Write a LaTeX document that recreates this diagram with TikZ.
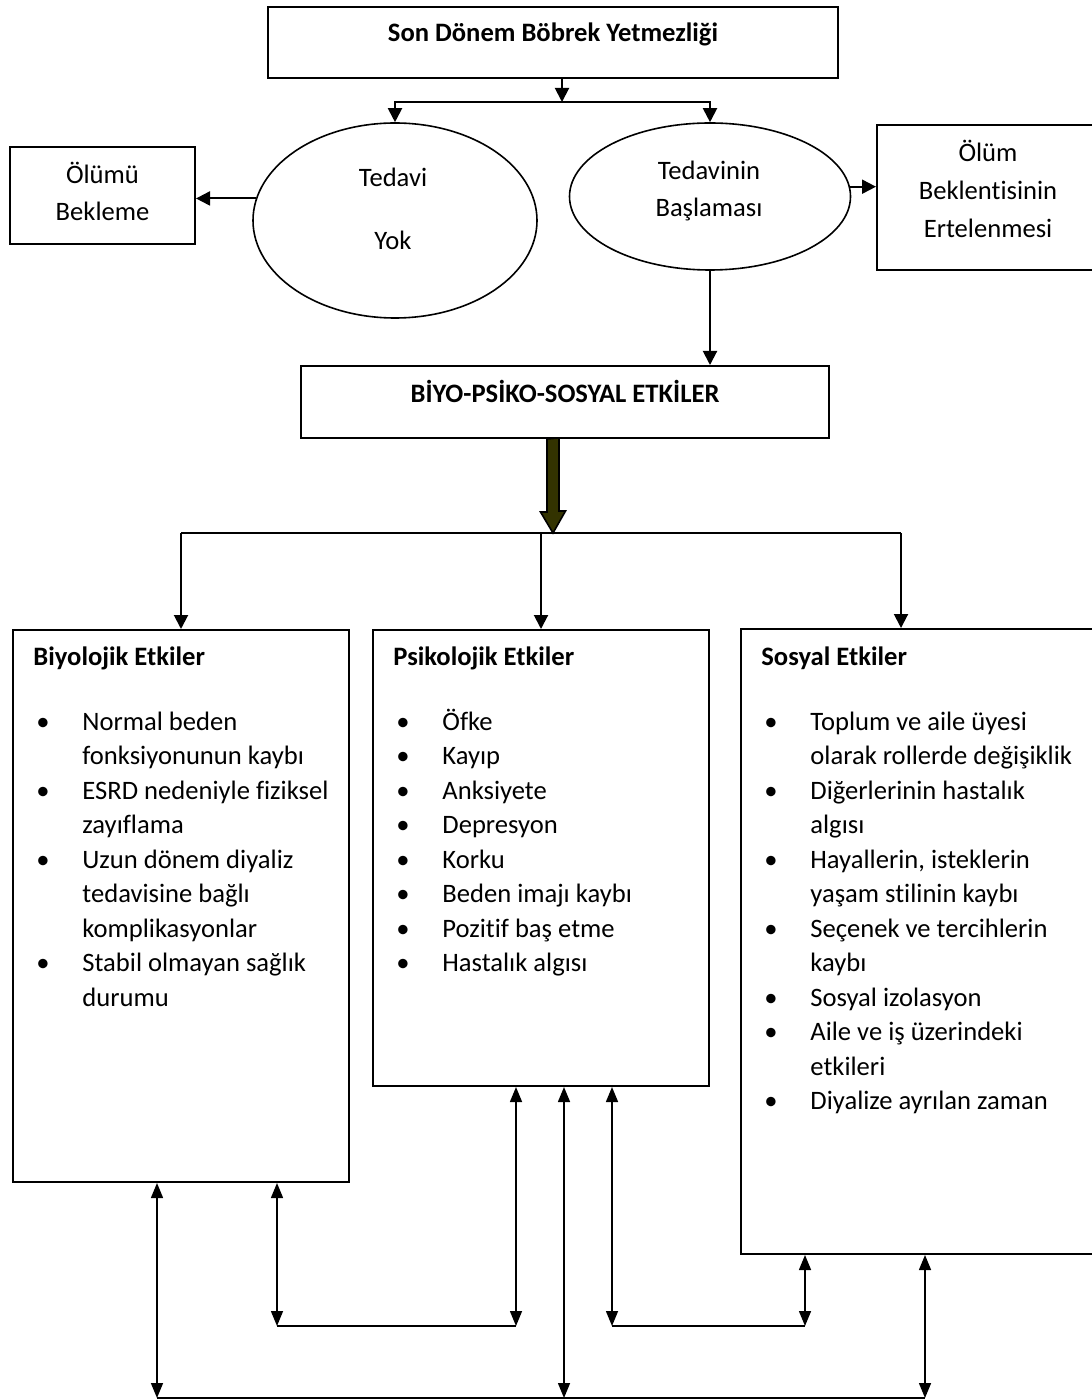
\documentclass[tikz,border=0pt]{standalone}
\usepackage{fontspec}
\setmainfont[Ligatures=NoCommon]{Carlito}
\usetikzlibrary{shapes.geometric,arrows.meta}
\definecolor{ArrowOlive}{HTML}{333300}
\newcommand{\blt}{\textbullet}
\tikzset{
  box/.style={draw, line width=1pt, rectangle, inner sep=0pt},
  oval/.style={draw, line width=0.8pt, ellipse, inner sep=0pt},
  txt/.style={anchor=base, inner sep=0pt, font=\fontsize{13.3}{17.25}\selectfont},
  headtxt/.style={anchor=base, inner sep=0pt, font=\bfseries\fontsize{13.3}{17.25}\selectfont},
  listtxt/.style={txt, anchor=base west},
  link/.style={line width=1pt},
  arr/.style={line width=1pt, -{Triangle[length=7pt,width=7pt]}},
  dbl/.style={line width=0.75pt, {Triangle[length=7.5pt,width=6pt]}-{Triangle[length=7.5pt,width=6pt]}},
}
\begin{document}
\begin{tikzpicture}[x=0.5pt, y=-0.5pt]%
\useasboundingbox (0,0) rectangle (1091,1400);%
% top part
\node[box, minimum width=285pt, minimum height=35.5pt] (son) at (553,42.5) {};%
\node[headtxt] (sontxt) at (553,42) {Son Dönem Böbrek Yetmezliği};%
\node[oval, minimum width=142pt, minimum height=97.5pt] (tedavi) at (395,220.5) {};%
\node[txt] (tedavitxt) at (393,187) {Tedavi};%
\node[txt] (yoktxt) at (393,250) {Yok};%
\node[oval, minimum width=140.5pt, minimum height=73.5pt] (basla) at (710,196.5) {};%
\node[txt] (baslatxt) at (709,180) {Tedavinin};%
\node[txt] (baslatxtb) at (709,217) {Başlaması};%
\node[box, minimum width=92.5pt, minimum height=48.5pt] (olumu) at (102.5,195.5) {};%
\node[txt] (olumutxt) at (102.5,184) {Ölümü};%
\node[txt] (olumutxtb) at (102.5,221) {Bekleme};%
\node[box, minimum width=111.5pt, minimum height=72.5pt] (ertele) at (988.5,197.5) {};%
\node[txt] (erteletxt) at (988,162) {Ölüm};%
\node[txt] (erteletxtb) at (988,200) {Beklentisinin};%
\node[txt] (erteletxtc) at (988,238) {Ertelenmesi};%
\coordinate (split) at (562,102);%
\draw[arr] (split |- son.south) -- (split);%
\draw[arr] (split) -| (tedavi.north);%
\draw[arr] (split) -| (basla.north);%
\draw[arr] (tedavi.171) -- (tedavi.171 -| olumu.east);%
\draw[arr] (basla.4) -- (basla.4 -| ertele.west);%
% middle part
\node[box, minimum width=264pt, minimum height=36pt] (biyo) at (565,402) {};%
\node[headtxt] (biyotxt) at (565,403) {BİYO-PSİKO-SOSYAL ETKİLER};%
\draw[arr] (basla.south) -- (basla.south |- biyo.north);%
\coordinate (hub) at (553,533);%
\filldraw[fill=ArrowOlive, line width=0.8pt] (hub |- biyo.south) ++(-6,0) -- ++(0,73) -- ++(-6.5,0) -- (hub) -- ++(12.5,-22) -- ++(-6.5,0) -- ++(0,-73) -- cycle;%
% the three panels
\node[box, minimum width=168pt, minimum height=276pt] (bio) at (181,906) {};%
\node[box, minimum width=168pt, minimum height=228pt] (psi) at (541,858) {};%
\node[box, minimum width=179.5pt, minimum height=312.5pt] (sos) at (920.5,941.5) {};%
\coordinate (sosin) at (901,533);%
\draw[link] (bio.north |- hub) -- (sosin);%
\draw[arr] (bio.north |- hub) -- (bio.north);%
\draw[arr] (psi.north |- hub) -- (psi.north);%
\draw[arr] (sosin) -- (sosin |- sos.north);%
\node[headtxt, anchor=base west] (biohead) at (33,665) {Biyolojik Etkiler};%
\node[listtxt] (biolist) at (36,730) {\begin{tabular}[t]{@{}p{23pt}@{}l@{}}
\blt & Normal beden\\
     & fonksiyonunun kaybı\\
\blt & ESRD nedeniyle fiziksel\\
     & zayıflama\\
\blt & Uzun dönem diyaliz\\
     & tedavisine bağlı\\
     & komplikasyonlar\\
\blt & Stabil olmayan sağlık\\
     & durumu
\end{tabular}};%
\node[headtxt, anchor=base west] (psihead) at (393,665) {Psikolojik Etkiler};%
\node[listtxt] (psilist) at (396,730) {\begin{tabular}[t]{@{}p{23pt}@{}l@{}}
\blt & Öfke\\
\blt & Kayıp\\
\blt & Anksiyete\\
\blt & Depresyon\\
\blt & Korku\\
\blt & Beden imajı kaybı\\
\blt & Pozitif baş etme\\
\blt & Hastalık algısı
\end{tabular}};%
\node[headtxt, anchor=base west] (soshead) at (761,665) {Sosyal Etkiler};%
\node[listtxt] (soslist) at (764,730) {\begin{tabular}[t]{@{}p{23pt}@{}l@{}}
\blt & Toplum ve aile üyesi\\
     & olarak rollerde değişiklik\\
\blt & Diğerlerinin hastalık\\
     & algısı\\
\blt & Hayallerin, isteklerin\\
     & yaşam stilinin kaybı\\
\blt & Seçenek ve tercihlerin\\
     & kaybı\\
\blt & Sosyal izolasyon\\
\blt & Aile ve iş üzerindeki\\
     & etkileri\\
\blt & Diyalize ayrılan zaman
\end{tabular}};%
% bottom connectors
\coordinate (m1) at (277,1326);%
\coordinate (m2) at (516,1326);%
\coordinate (m3) at (612,1326);%
\coordinate (m4) at (805,1326);%
\coordinate (b1) at (157,1398);%
\coordinate (b2) at (564,1398);%
\coordinate (b3) at (925,1398);%
\draw[dbl] (m1 |- bio.south) -- (m1);%
\draw[dbl] (m2 |- psi.south) -- (m2);%
\draw[link, line width=0.9pt] (m1) -- (m2);%
\draw[dbl] (m3 |- psi.south) -- (m3);%
\draw[dbl] (m4 |- sos.south) -- (m4);%
\draw[link, line width=0.9pt] (m3) -- (m4);%
\draw[dbl] (b1 |- bio.south) -- (b1);%
\draw[dbl] (b2 |- psi.south) -- (b2);%
\draw[dbl] (b3 |- sos.south) -- (b3);%
\draw[link, line width=0.9pt] (b1) -- (b3);%
\end{tikzpicture}
\end{document}
